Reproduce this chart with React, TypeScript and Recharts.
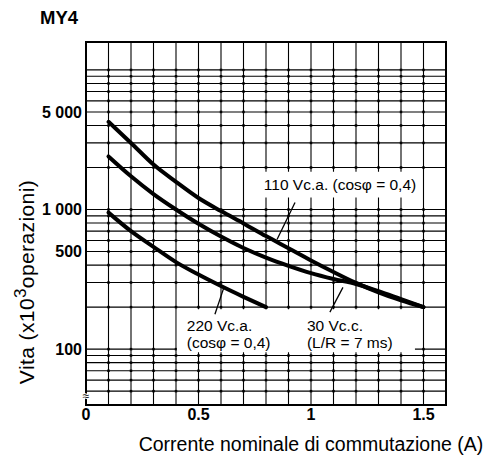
import React from 'react';
import {
  ComposedChart,
  Line,
  Scatter,
  XAxis,
  YAxis,
  ReferenceArea,
  ReferenceLine,
  ReferenceDot,
} from 'recharts';

// ---- data ----
const currents = [0.1, 0.2, 0.3, 0.4, 0.5, 0.6, 0.7, 0.8, 0.9, 1.0, 1.1, 1.2, 1.3, 1.4, 1.5];
const life110ac = [4250, 3000, 2100, 1580, 1210, 975, 795, 645, 528, 432, 357, 298, 255, 224, 200];
const life30dc = [2400, 1730, 1290, 1000, 790, 640, 530, 452, 395, 350, 318, 293, 260, 228, 200];
const life220ac = [950, 700, 540, 420, 342, 283, 237, 200];

const xTicks = [0, 0.5, 1, 1.5];
const yTicks = [100, 500, 1000, 5000];
const xGridValues = [0.1, 0.2, 0.3, 0.4, 0.5, 0.6, 0.7, 0.8, 0.9, 1.0, 1.1, 1.2, 1.3, 1.4, 1.5];
const yGridValues = [
  50, 60, 70, 80, 90, 100, 200, 300, 400, 500, 600, 700, 800, 900, 1000, 2000, 3000, 4000, 5000,
  6000, 7000, 8000, 9000, 10000,
];

const X_DOMAIN: [number, number] = [0, 1.6];
const Y_DOMAIN: [number, number] = [39.8, 15849];

const data = currents.map((c, i) => ({
  current: c,
  v110: life110ac[i],
  v30: life30dc[i],
  v220: i < life220ac.length ? life220ac[i] : null,
}));

// grid intersections (printed dots of the original graph paper)
const gridDots: { current: number; node: number }[] = [];
xGridValues.forEach((gx) => yGridValues.forEach((gy) => gridDots.push({ current: gx, node: gy })));

const FONT = '"Liberation Sans", Arial, Helvetica, sans-serif';

const fmtY = (v: number) => (v >= 1000 ? `${v / 1000} 000` : `${v}`);

const anno = (lines: string[], anchor: 'start' | 'middle', size: number) => (p: any) => {
  const vb = p.viewBox || {};
  const x = vb.x ?? 0;
  const y = vb.y ?? 0;
  return (
    <text x={x} y={y} textAnchor={anchor} fontFamily={FONT} fontSize={size} fill="#000">
      {lines.map((l, i) => (
        <tspan key={i} x={x} dy={i === 0 ? '0.35em' : '1.1em'}>
          {l}
        </tspan>
      ))}
    </text>
  );
};

const breakMark = (p: any) => {
  const vb = p.viewBox || {};
  return (
    <text
      x={vb.x ?? 0}
      y={vb.y ?? 0}
      dy="0.35em"
      textAnchor="middle"
      fontFamily={FONT}
      fontSize={12}
      fill="#000"
      stroke="#fff"
      strokeWidth={2}
      paintOrder="stroke"
    >
      ≈
    </text>
  );
};

const XTitle = () => (
  <text x={311} y={451} textAnchor="middle" fontFamily={FONT} fontSize={19.5} fill="#000">
    Corrente nominale di commutazione (A)
  </text>
);

const YTitle = () => (
  <text
    transform="translate(34,282) rotate(-90)"
    textAnchor="middle"
    fontFamily={FONT}
    fontSize={21}
    letterSpacing={0.4}
    fill="#000"
  >
    Vita (x10
    <tspan dy={-8} fontSize={17}>
      3
    </tspan>
    <tspan dy={8}>operazioni)</tspan>
  </text>
);

const DotShape = (p: any) =>
  p.cx == null || p.cy == null ? null : (
    <rect x={p.cx - 1.25} y={p.cy - 1.25} width={2.5} height={2.5} fill="#000" />
  );

export default function App() {
  return (
    <div style={{ position: 'absolute', left: 0, top: 0, width: 490, height: 468, background: '#fff' }}>
      <div
        style={{
          position: 'absolute',
          left: 40,
          top: 7,
          fontFamily: FONT,
          fontWeight: 'bold',
          fontSize: 18.5,
          color: '#000',
        }}
      >
        MY4
      </div>
      <ComposedChart
        width={490}
        height={468}
        data={data}
        margin={{ top: 42, right: 44, left: 26, bottom: 33 }}
      >
        <XAxis
          dataKey="current"
          type="number"
          domain={X_DOMAIN}
          ticks={xTicks}
          tickFormatter={(v: number) => String(v)}
          axisLine={false}
          tickLine={false}
          tickSize={4}
          tickMargin={0}
          height={30}
          tick={{ fill: '#000', fontSize: 16, fontWeight: 'bold', fontFamily: FONT }}
          allowDataOverflow
          label={<XTitle />}
        />
        <YAxis
          scale="log"
          type="number"
          domain={Y_DOMAIN}
          ticks={yTicks}
          tickFormatter={fmtY}
          axisLine={false}
          tickLine={false}
          tickSize={4}
          tickMargin={0}
          width={60}
          tick={{ fill: '#000', fontSize: 16, fontWeight: 'bold', fontFamily: FONT }}
          allowDataOverflow
          label={<YTitle />}
        />
        {/* graph-paper grid */}
        {xGridValues.map((v) => (
          <ReferenceLine key={`gx${v}`} x={v} stroke="#000" strokeWidth={1.1} zIndex={-60} />
        ))}
        {yGridValues.map((v) => (
          <ReferenceLine key={`gy${v}`} y={v} stroke="#000" strokeWidth={1.1} zIndex={-60} />
        ))}
        <Scatter
          data={gridDots}
          dataKey="node"
          shape={<DotShape />}
          isAnimationActive={false}
          zIndex={-55}
        />
        {/* white backgrounds behind annotations */}
        <ReferenceArea x1={0.769} x2={1.484} y1={1218} y2={1868} fill="#fff" fillOpacity={1} stroke="none" zIndex={-40} />
        <ReferenceArea x1={0.404} x2={1.462} y1={95} y2={193} fill="#fff" fillOpacity={1} stroke="none" zIndex={-40} />
        {/* plot border */}
        <ReferenceArea
          x1={X_DOMAIN[0]}
          x2={X_DOMAIN[1]}
          y1={Y_DOMAIN[0]}
          y2={Y_DOMAIN[1]}
          fill="none"
          fillOpacity={0}
          stroke="#000"
          strokeWidth={2}
          zIndex={-30}
        />
        {/* leader lines */}
        <ReferenceLine segment={[{ x: 0.929, y: 1122 }, { x: 0.849, y: 610 }]} stroke="#000" strokeWidth={1.3} />
        <ReferenceLine segment={[{ x: 0.573, y: 178 }, { x: 0.613, y: 277 }]} stroke="#000" strokeWidth={1.3} />
        <ReferenceLine segment={[{ x: 1.084, y: 184 }, { x: 1.142, y: 277 }]} stroke="#000" strokeWidth={1.3} />
        <Line
          dataKey="v110"
          type="monotone"
          stroke="#000"
          strokeWidth={4}
          strokeLinecap="round"
          dot={false}
          isAnimationActive={false}
        />
        <Line
          dataKey="v30"
          type="monotone"
          stroke="#000"
          strokeWidth={4}
          strokeLinecap="round"
          dot={false}
          isAnimationActive={false}
        />
        <Line
          dataKey="v220"
          type="monotone"
          stroke="#000"
          strokeWidth={4}
          strokeLinecap="round"
          dot={false}
          connectNulls={false}
          isAnimationActive={false}
        />
        <ReferenceDot x={1.129} y={1509} r={0} fill="none" stroke="none" label={anno(['110 Vc.a. (cosφ = 0,4)'], 'middle', 15.5)} />
        <ReferenceDot x={0.448} y={147} r={0} fill="none" stroke="none" label={anno(['220 Vc.a.', '(cosφ = 0,4)'], 'start', 15.5)} />
        <ReferenceDot x={0.982} y={147} r={0} fill="none" stroke="none" label={anno(['30 Vc.c.', '(L/R = 7 ms)'], 'start', 15.5)} />
        <ReferenceDot x={0} y={46} r={0} fill="none" stroke="none" label={breakMark} />
      </ComposedChart>
    </div>
  );
}
